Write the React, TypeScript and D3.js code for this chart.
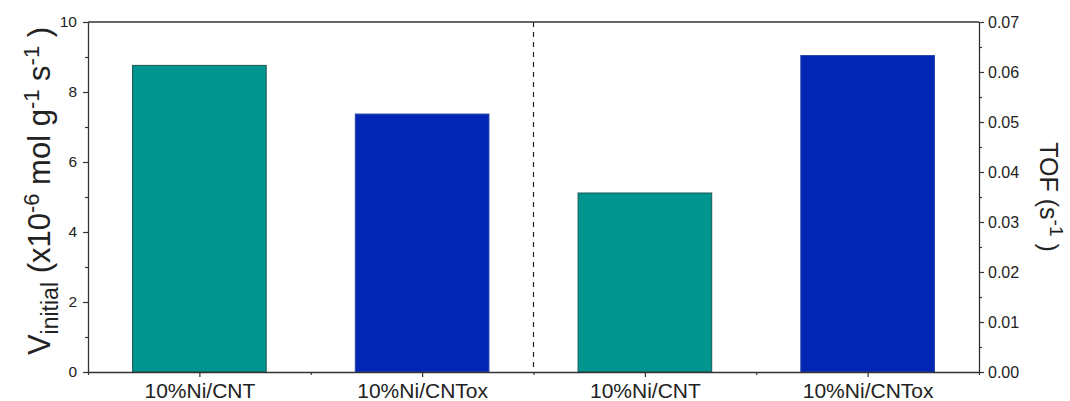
import React, { useEffect, useRef } from "react";
import * as d3 from "d3";

// chart values
const categories = ["10%Ni/CNT", "10%Ni/CNTox", "10%Ni/CNT", "10%Ni/CNTox"];
const vInitial = [8.76, 7.37]; // left axis, x10-6 mol g-1 s-1
const tof = [0.0358, 0.0633]; // right axis, s-1
const leftTicks = [0, 2, 4, 6, 8, 10];
const leftMinor = [1, 3, 5, 7, 9];
const rightTicks = [0, 0.01, 0.02, 0.03, 0.04, 0.05, 0.06, 0.07];
const rightMinor = [0.005, 0.015, 0.025, 0.035, 0.045, 0.055, 0.065];
const barColors = ["#00958f", "#0026b3", "#00958f", "#0026b3"];
const barStrokes = ["#1d5856", "#2a46a8", "#1d5856", "#2a46a8"];

const W = 1070,
  H = 401;
const margin = { top: 22, right: 91, bottom: 29, left: 88 };
const FONT = "'Liberation Sans', Arial, sans-serif";

const App = () => {
  const ref = useRef<SVGSVGElement>(null);

  useEffect(() => {
    const svg = d3.select(ref.current);
    svg.selectAll("*").remove();

    const x0 = margin.left,
      x1 = W - margin.right,
      y0 = H - margin.bottom,
      y1 = margin.top;

    // x is a linear position scale, categories sit at 1,3,5,7
    const x = d3.scaleLinear().domain([0, 8]).range([x0, x1]);
    const yL = d3.scaleLinear().domain([0, 10]).range([y0, y1]);
    const yR = d3.scaleLinear().domain([0, 0.07]).range([y0, y1]);
    const centers = categories.map((_, i) => 1 + 2 * i);
    const barW = 1.2;

    const values = [
      ...vInitial.map((v) => ({ v, s: yL })),
      ...tof.map((v) => ({ v, s: yR })),
    ];

    // bars
    svg
      .append("g")
      .selectAll("rect")
      .data(values)
      .enter()
      .append("rect")
      .attr("x", (d, i) => x(centers[i] - barW / 2))
      .attr("width", x(barW) - x(0))
      .attr("y", (d) => d.s(d.v))
      .attr("height", (d) => y0 - d.s(d.v))
      .attr("fill", (d, i) => barColors[i])
      .attr("stroke", (d, i) => barStrokes[i])
      .attr("stroke-width", 1);

    // dashed divider
    svg
      .append("line")
      .attr("x1", x(4))
      .attr("x2", x(4))
      .attr("y1", y1)
      .attr("y2", y0)
      .attr("stroke", "#222")
      .attr("stroke-width", 1.2)
      .attr("stroke-dasharray", "5,5");

    const styleAxis = (g) => {
      g.selectAll("path").attr("stroke", "#333").attr("stroke-width", 1.3);
      g.selectAll("line").attr("stroke", "#333").attr("stroke-width", 1.2);
      g.selectAll("text").attr("fill", "#222").style("font-family", FONT);
    };

    // left axis
    svg
      .append("g")
      .attr("transform", `translate(${x0},0)`)
      .call(
        d3
          .axisLeft(yL)
          .tickValues(leftTicks)
          .tickSize(5)
          .tickSizeOuter(0)
          .tickPadding(6)
          .tickFormat(d3.format("d"))
      )
      .call(styleAxis)
      .selectAll("text")
      .style("font-size", "15.5px");
    svg
      .append("g")
      .attr("transform", `translate(${x0},0)`)
      .call(d3.axisLeft(yL).tickValues(leftMinor).tickSize(3).tickFormat(() => ""))
      .call((g) => g.select(".domain").remove())
      .call(styleAxis);

    // right axis
    svg
      .append("g")
      .attr("transform", `translate(${x1},0)`)
      .call(
        d3
          .axisRight(yR)
          .tickValues(rightTicks)
          .tickSize(5)
          .tickSizeOuter(0)
          .tickPadding(4)
          .tickFormat(d3.format(".2f"))
      )
      .call(styleAxis)
      .selectAll("text")
      .style("font-size", "16px");
    svg
      .append("g")
      .attr("transform", `translate(${x1},0)`)
      .call(d3.axisRight(yR).tickValues(rightMinor).tickSize(3).tickFormat(() => ""))
      .call((g) => g.select(".domain").remove())
      .call(styleAxis);

    // bottom axis
    svg
      .append("g")
      .attr("transform", `translate(0,${y0})`)
      .call(
        d3
          .axisBottom(x)
          .tickValues(centers)
          .tickSize(5)
          .tickSizeOuter(0)
          .tickPadding(6)
          .tickFormat((d, i) => categories[i])
      )
      .call(styleAxis)
      .selectAll("text")
      .style("font-size", "21px");
    svg
      .append("g")
      .attr("transform", `translate(0,${y0})`)
      .call(d3.axisBottom(x).tickValues([0, 2, 4, 6, 8]).tickSize(3).tickFormat(() => ""))
      .call((g) => g.select(".domain").remove())
      .call(styleAxis);

    // top frame line
    svg
      .append("line")
      .attr("x1", x0)
      .attr("x2", x1)
      .attr("y1", y1)
      .attr("y2", y1)
      .attr("stroke", "#333")
      .attr("stroke-width", 1.3);

    // left title
    const lt = svg
      .append("text")
      .attr("transform", `translate(50,191) rotate(-90)`)
      .attr("text-anchor", "middle")
      .style("font-family", FONT)
      .style("font-size", "31px")
      .attr("fill", "#222");
    lt.append("tspan").text("V");
    lt.append("tspan").attr("dy", 8).style("font-size", "23px").text("initial");
    lt.append("tspan").attr("dy", -8).text(" (x10");
    lt.append("tspan").attr("dy", -11).style("font-size", "22px").text("-6");
    lt.append("tspan").attr("dy", 11).text(" mol g");
    lt.append("tspan").attr("dy", -11).style("font-size", "22px").text("-1");
    lt.append("tspan").attr("dy", 11).text(" s");
    lt.append("tspan").attr("dy", -11).style("font-size", "22px").text("-1");
    lt.append("tspan").attr("dy", 11).text(" )");

    // right title
    const rt = svg
      .append("text")
      .attr("transform", `translate(1040,197) rotate(90)`)
      .attr("text-anchor", "middle")
      .style("font-family", FONT)
      .style("font-size", "25px")
      .attr("fill", "#222");
    rt.append("tspan").text("TOF (s");
    rt.append("tspan").attr("dy", -10).style("font-size", "19px").text("-1");
    rt.append("tspan").attr("dy", 10).text(" )");
  }, []);

  return (
    <svg
      ref={ref}
      width={W}
      height={H}
      style={{ position: "absolute", left: 0, top: 0, background: "#fff" }}
    ></svg>
  );
};

export default App;
